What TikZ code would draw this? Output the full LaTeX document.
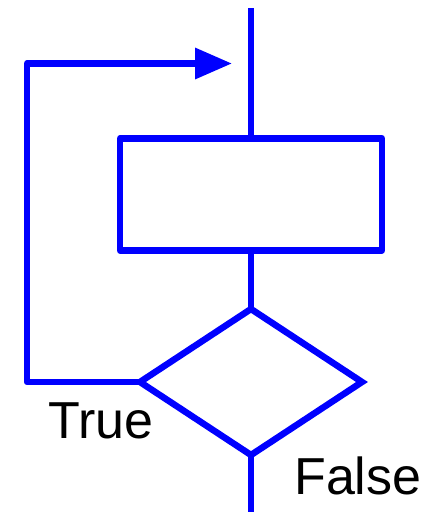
\documentclass[tikz,border=0pt]{standalone}
\usepackage{fontspec}
\setmainfont{Liberation Sans}
\usetikzlibrary{shapes.geometric,arrows.meta}

\begin{document}
\begin{tikzpicture}[x=1pt,y=-1pt,line width=6.5pt,line join=round,
  >={Triangle[length=37pt,width=30pt]},
  flow/.style={draw=blue},
  process/.style={rectangle,draw=blue,inner sep=0pt,outer sep=0pt,
    minimum width=262pt,minimum height=112pt},
  decision/.style={diamond,draw=blue,line join=miter,inner sep=0pt,outer sep=0pt,
    minimum width=222pt,minimum height=146pt},
  label/.style={font=\fontsize{52}{62}\selectfont,inner sep=0pt,anchor=base west}]
  \useasboundingbox (0,0) rectangle (421,517);

  \coordinate (in) at (251,8);
  \node[process] (body) at (251,194.5) {};
  \node[decision] (test) at (251,382) {};
  \coordinate (out) at (251,512);
  \coordinate (c1) at (27,382);
  \coordinate (c2) at (27,63.5);
  \coordinate (back) at (232,63.5);

  \path[flow]
    (in) edge (body.north)
    (body.south) edge (test.north)
    (test.south) edge (out);
  % loop back when the test holds
  \draw[flow,->] (test.west) -- (c1) -- (c2) -- (back);

  \node[label] (true) at (45,438) {True};
  \node[label] (false) at (291,494) {False};
\end{tikzpicture}
\end{document}
